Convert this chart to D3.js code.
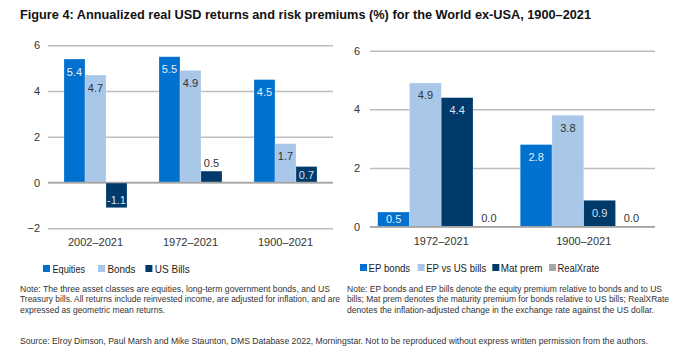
<!DOCTYPE html>
<html><head><meta charset="utf-8">
<script src="https://cdn.jsdelivr.net/npm/d3@7"></script>
<style>
body{margin:0;background:#fff;}
text{font-family:"Liberation Sans",Arial,sans-serif;}
</style></head>
<body><svg id="c" width="683" height="356"></svg>
<script>
// ---- Data ----
const leftCategories = ["2002–2021", "1972–2021", "1900–2021"];
const leftSeries = ["Equities", "Bonds", "US Bills"];
const equities = [5.4, 5.5, 4.5];
const bonds = [4.7, 4.9, 1.7];
const usBills = [-1.1, 0.5, 0.7];
const leftTicks = [-2, 0, 2, 4, 6];

const rightCategories = ["1972–2021", "1900–2021"];
const rightSeries = ["EP bonds", "EP vs US bills", "Mat prem", "RealXrate"];
const epBonds = [0.5, 2.8];
const epBills = [4.9, 3.8];
const matPrem = [4.4, 0.9];
const realXrate = [0.0, 0.0];
const rightTicks = [0, 2, 4, 6];

const title = "Figure 4: Annualized real USD returns and risk premiums (%) for the World ex-USA, 1900–2021";
const leftNote = ["Note:  The three asset classes are equities, long-term government bonds, and US",
  "Treasury bills. All returns include reinvested income, are adjusted for inflation, and are",
  "expressed as geometric mean returns."];
const rightNote = ["Note: EP bonds and EP bills denote the equity premium relative to bonds and to US",
  "bills; Mat prem denotes the maturity premium for bonds relative to US bills; RealXRate",
  "denotes the inflation-adjusted change in the exchange rate against the US dollar."];
const source = "Source: Elroy Dimson, Paul Marsh and Mike Staunton, DMS Database 2022, Morningstar. Not to be reproduced without express written permission from the authors.";

// ---- Styles ----
const colors = ["#0071CE", "#A9C7E9", "#003A6B", "#A6A6A6"];
const labelColors = ["#E3EEF9", "#333333", "#D6E2EE", "#333333"];
const svg = d3.select("#c");

svg.append("text").attr("x", 20).attr("y", 19)
  .attr("font-size", 13).attr("font-weight", "bold").attr("fill", "#111")
  .attr("textLength", 571).attr("lengthAdjust", "spacingAndGlyphs")
  .text(title);

function drawChart(opts) {
  const {cats, seriesNames, values, ticks, x0, x1, yTop, yBottom, domain, padInner, tickX, catY, legendX, legendY, legendGaps, legendWidths, legendTextOff} = opts;
  const g = svg.append("g");
  const y = d3.scaleLinear().domain(domain).range([yBottom, yTop]);
  const xc = d3.scaleBand().domain(cats).range([x0, x1]).paddingInner(0).paddingOuter(0);
  const xs = d3.scaleBand().domain(seriesNames).range([0, xc.bandwidth()]).paddingOuter(padInner).paddingInner(0);

  // grid
  const yAxis = d3.axisLeft(y).tickValues(ticks).tickSize(-(x1 - x0)).tickFormat(d3.format("d"));
  const ga = g.append("g").attr("transform", `translate(${x0},0)`).call(yAxis);
  ga.select(".domain").remove();
  ga.selectAll(".tick line").attr("stroke", "#BDBDBD").attr("stroke-width", 1.5);
  ga.selectAll(".tick text").attr("x", -(x0 - tickX)).attr("font-size", 11).attr("fill", "#333")
    .attr("font-family", "Liberation Sans, Arial, sans-serif").attr("text-anchor", "end");

  // bars
  cats.forEach((c, ci) => {
    seriesNames.forEach((s, si) => {
      const v = values[si][ci];
      const bx = xc(c) + xs(s);
      const bw = xs.bandwidth();
      const top = y(Math.max(v, 0)), bot = y(Math.min(v, 0));
      const h = bot - top;
      if (h > 0.1) {
        g.append("rect").attr("x", bx).attr("y", top).attr("width", bw).attr("height", h)
          .attr("fill", colors[si]).attr("stroke", "#fff").attr("stroke-opacity", 0.35).attr("stroke-width", 0.6);
      }
      let ly, fill;
      if (v < 0) { ly = bot - 4; fill = labelColors[si]; }
      else if (h >= 13) { ly = top + Math.min(12.5, h * 0.5) + 4; fill = labelColors[si]; }
      else { ly = top - 4.5; fill = "#333"; }
      g.append("text").attr("x", bx + bw / 2).attr("y", ly).attr("text-anchor", "middle")
        .attr("font-size", 11).attr("fill", fill).text(v.toFixed(1));
    });
  });

  // baseline at 0
  g.append("line").attr("x1", x0).attr("x2", x1).attr("y1", y(0)).attr("y2", y(0))
    .attr("stroke", "#A6A6A6").attr("stroke-width", 1.5);

  // category labels
  const xa = d3.axisBottom(xc).tickSize(0);
  const gx = g.append("g").attr("transform", `translate(0,${catY})`).call(xa);
  gx.select(".domain").remove();
  gx.selectAll(".tick text").attr("font-size", 11).attr("fill", "#333").attr("dy", 0)
    .attr("y", 0).attr("font-family", "Liberation Sans, Arial, sans-serif");

  // legend
  let lx = legendX;
  seriesNames.forEach((s, si) => {
    g.append("rect").attr("x", lx).attr("y", legendY - 4).attr("width", 7).attr("height", 7).attr("fill", colors[si]);
    g.append("text").attr("x", lx + legendTextOff).attr("y", legendY + 4).attr("font-size", 11.5).attr("fill", "#222")
      .attr("textLength", legendWidths[si]).attr("lengthAdjust", "spacingAndGlyphs").text(s);
    lx += legendGaps[si];
  });
}

drawChart({cats: leftCategories, seriesNames: leftSeries, values: [equities, bonds, usBills], ticks: leftTicks,
  x0: 48, x1: 333, yTop: 45.3, yBottom: 228.3, domain: [-2, 6], padInner: 0.5 * (95 - 63) / 21,
  tickX: 40, catY: 245.5, legendX: 43, legendY: 269, legendGaps: [55, 47.4, 50],
  legendWidths: [32.7, 28, 35], legendTextOff: 9.4});
drawChart({cats: rightCategories, seriesNames: rightSeries, values: [epBonds, epBills, matPrem, realXrate], ticks: rightTicks,
  x0: 370, x1: 655, yTop: 50.7, yBottom: 226.7, domain: [0, 6], padInner: 0.5 * (142.5 - 127) / 31.8,
  tickX: 360, catY: 245, legendX: 360, legendY: 268, legendGaps: [57.7, 74.6, 56.7, 60],
  legendWidths: [41.7, 60, 41.7, 41.7], legendTextOff: 8.5});

// notes
const noteW = [310, 320, 145];
leftNote.forEach((l, i) => svg.append("text").attr("x", 20).attr("y", 291.5 + i * 10.5).attr("font-size", 9)
  .attr("fill", "#333").attr("textLength", noteW[i]).attr("lengthAdjust", "spacingAndGlyphs").text(l));
const noteW2 = [315, 322, 307];
rightNote.forEach((l, i) => svg.append("text").attr("x", 347).attr("y", 291.5 + i * 10.5).attr("font-size", 8.5)
  .attr("fill", "#333").attr("textLength", noteW2[i]).attr("lengthAdjust", "spacingAndGlyphs").text(l));
svg.append("text").attr("x", 20).attr("y", 344).attr("font-size", 9).attr("fill", "#333")
  .attr("textLength", 628).attr("lengthAdjust", "spacingAndGlyphs").text(source);
</script></body></html>
